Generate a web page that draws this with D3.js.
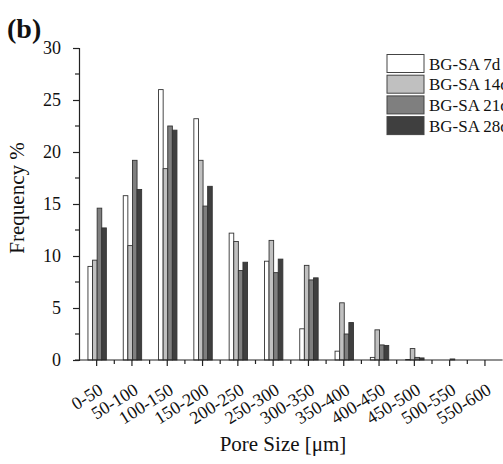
<!DOCTYPE html>
<html><head><meta charset="utf-8">
<script src="https://cdn.jsdelivr.net/npm/d3@7/dist/d3.min.js"></script>
<style>
html,body{margin:0;padding:0;background:#fff;}
svg{display:block;}
svg text{font-family:"Liberation Serif","Times New Roman",serif !important;}
</style></head>
<body>
<svg id="chart" width="503" height="464"></svg>
<script>
const categories = ["0-50","50-100","100-150","150-200","200-250","250-300","300-350","350-400","400-450","450-500","500-550","550-600"];
const seriesNames = ["BG-SA 7d","BG-SA 14d","BG-SA 21d","BG-SA 28d"];
const bg7d  = [9.0, 15.8, 26.0, 23.2, 12.2, 9.5, 3.0, 0.85, 0.25, 0.05, 0, 0];
const bg14d = [9.6, 11.0, 18.4, 19.2, 11.4, 11.5, 9.1, 5.5, 2.9, 1.1, 0, 0];
const bg21d = [14.6, 19.2, 22.5, 14.8, 8.6, 8.4, 7.7, 2.5, 1.45, 0.25, 0.1, 0];
const bg28d = [12.7, 16.4, 22.1, 16.7, 9.4, 9.7, 7.9, 3.6, 1.4, 0.2, 0, 0];
const seriesValues = [bg7d, bg14d, bg21d, bg28d];
const colors = ["#ffffff","#c0c0c0","#7f7f7f","#3f3f3f"];
const yTicks = [0,5,10,15,20,25,30];

const FONT = '"Liberation Serif","Times New Roman",serif';
const svg = d3.select("#chart");
const mLeft = 79, mRight = 502.6, mTop = 48, mBottom = 360;

const x = d3.scaleBand().domain(categories).range([mLeft, mRight]).paddingInner(0).paddingOuter(0);
const xs = d3.scaleBand().domain(seriesNames).range([-9.2, 9.2]).padding(0);
const y = d3.scaleLinear().domain([0, 30]).range([mBottom, mTop]);

// bars
seriesNames.forEach((s, si) => {
  svg.append("g").selectAll("rect").data(categories).join("rect")
    .attr("x", c => x(c) + x.bandwidth()/2 + 0.5 + xs(s))
    .attr("y", (c, i) => y(seriesValues[si][i]))
    .attr("width", xs.bandwidth())
    .attr("height", (c, i) => y(0) - y(seriesValues[si][i]))
    .attr("fill", colors[si])
    .attr("stroke", "#333")
    .attr("stroke-width", 0.9)
    .attr("display", (c, i) => seriesValues[si][i] > 0 ? null : "none");
});

// y axis
const yAxis = d3.axisLeft(y).tickValues(yTicks).tickSize(6).tickPadding(12);
const gy = svg.append("g").attr("transform", `translate(${mLeft},0)`).call(yAxis)
  .attr("font-family", FONT);
gy.select(".domain").attr("stroke", "#222").attr("stroke-width", 1.2);
gy.selectAll(".tick line").attr("stroke", "#222").attr("stroke-width", 1.2);
gy.selectAll("text").attr("font-size", 18).attr("fill", "#111").attr("font-family", FONT);
// minor y ticks
const minorY = d3.range(2.5, 30, 5);
svg.append("g").selectAll("line").data(minorY).join("line")
  .attr("x1", mLeft - 4).attr("x2", mLeft)
  .attr("y1", d => y(d)).attr("y2", d => y(d))
  .attr("stroke", "#222").attr("stroke-width", 1.2);

// x axis
const xAxis = d3.axisBottom(x).tickSize(6).tickFormat("");
const gx = svg.append("g").attr("transform", `translate(0,${mBottom})`).call(xAxis);
gx.select(".domain").attr("stroke", "#222").attr("stroke-width", 1.2).attr("d", `M${mLeft-4},0H${mRight}`);
gx.selectAll(".tick line").attr("stroke", "#222").attr("stroke-width", 1.2);
// minor x ticks at band edges
svg.append("g").selectAll("line").data(categories.slice(1)).join("line")
  .attr("x1", c => x(c)).attr("x2", c => x(c))
  .attr("y1", mBottom).attr("y2", mBottom + 4)
  .attr("stroke", "#222").attr("stroke-width", 1.2);

// x tick labels
svg.append("g").selectAll("text").data(categories).join("text")
  .attr("transform", c => `translate(${x(c) + x.bandwidth()/2 + 7.5},${mBottom + 33}) rotate(-32)`)
  .attr("text-anchor", "end")
  .attr("font-size", 18)
  .attr("font-family", FONT)
  .attr("fill", "#111")
  .text(c => c);

// axis titles
svg.append("text").attr("x", 283).attr("y", 451).attr("text-anchor", "middle")
  .attr("font-size", 21).attr("font-family", FONT).attr("fill", "#111").text("Pore Size [\u03bcm]");
svg.append("text").attr("transform", `translate(24,${(mTop+mBottom)/2 - 6}) rotate(-90)`)
  .attr("text-anchor", "middle").attr("font-size", 21).attr("font-family", FONT)
  .attr("fill", "#111").text("Frequency %");

// panel label
svg.append("text").attr("x", 7).attr("y", 38).attr("font-size", 28).attr("font-weight", "bold")
  .attr("font-family", FONT).attr("fill", "#111").text("(b)");

// legend
const lg = svg.append("g");
seriesNames.forEach((s, i) => {
  const yy = 54.5 + i * 20.7;
  lg.append("rect").attr("x", 387).attr("y", yy).attr("width", 37).attr("height", 18)
    .attr("fill", colors[i]).attr("stroke", "#444").attr("stroke-width", 1);
  lg.append("text").attr("x", 429).attr("y", yy + 15).attr("font-size", 17)
    .attr("font-family", FONT).attr("fill", "#111").text(s);
});
</script>
</body></html>
